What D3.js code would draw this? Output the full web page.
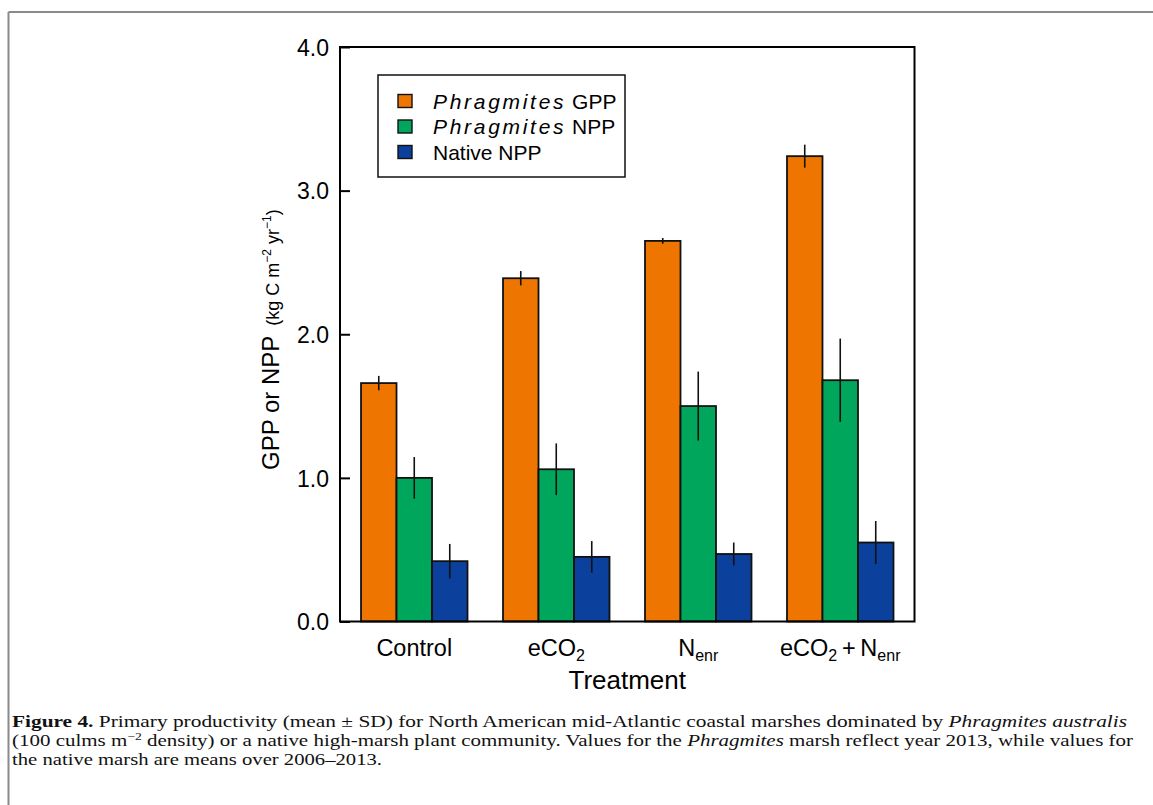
<!DOCTYPE html>
<html><head><meta charset="utf-8">
<script src="https://cdn.jsdelivr.net/npm/d3@7"></script>
<style>body{margin:0;background:#fff}svg{display:block}</style>
</head><body>
<svg id="chart" width="1153" height="805"></svg>
<script>
const treatments = ["Control", "eCO2", "Nenr", "eCO2+Nenr"];
const seriesNames = ["Phragmites GPP", "Phragmites NPP", "Native NPP"];
const gppMean = [1.66, 2.39, 2.65, 3.24];
const gppSD   = [0.05, 0.05, 0.02, 0.08];
const nppMean = [1.00, 1.06, 1.50, 1.68];
const nppSD   = [0.145, 0.18, 0.24, 0.29];
const natMean = [0.42, 0.45, 0.47, 0.55];
const natSD   = [0.12, 0.11, 0.08, 0.15];
const yTicks  = [0, 1, 2, 3, 4];
const colors  = ["#EE7600", "#00A65B", "#0B419C"];

const means = [gppMean, nppMean, natMean];
const sds = [gppSD, nppSD, natSD];

const svg = d3.select("#chart");
const L = 340, R = 914.5, T = 47, B = 621.5;
const font = "'Liberation Sans', Arial, Helvetica, sans-serif";
const serif = "'Liberation Serif', 'Times New Roman', serif";

// figure border (top + left)
svg.append("line").attr("x1", 8.5).attr("x2", 1153).attr("y1", 12).attr("y2", 12).attr("stroke", "#8a8a8a").attr("stroke-width", 2);
svg.append("line").attr("x1", 8.5).attr("x2", 8.5).attr("y1", 12).attr("y2", 805).attr("stroke", "#8a8a8a").attr("stroke-width", 2);

const x0 = d3.scaleBand().domain(treatments).range([L, R]).paddingInner(0.25).paddingOuter(0.148);
const x1 = d3.scaleBand().domain(seriesNames).range([0, x0.bandwidth()]);
const y = d3.scaleLinear().domain([0, 4]).range([B, T]);

const rows = [];
treatments.forEach((t, i) => seriesNames.forEach((s, j) => rows.push({t, s, j, m: means[j][i], sd: sds[j][i]})));

const g = svg.append("g");
g.selectAll("rect.bar").data(rows).join("rect").attr("class", "bar")
  .attr("x", d => x0(d.t) + x1(d.s))
  .attr("width", x1.bandwidth())
  .attr("y", d => y(d.m))
  .attr("height", d => y(0) - y(d.m))
  .attr("fill", d => colors[d.j])
  .attr("stroke", "#111").attr("stroke-width", 1.8);

g.selectAll("line.err").data(rows).join("line").attr("class", "err")
  .attr("x1", d => x0(d.t) + x1(d.s) + x1.bandwidth() / 2)
  .attr("x2", d => x0(d.t) + x1(d.s) + x1.bandwidth() / 2)
  .attr("y1", d => y(d.m - d.sd))
  .attr("y2", d => y(d.m + d.sd))
  .attr("stroke", "#111").attr("stroke-width", 1.6);

// frame
svg.append("rect").attr("x", L).attr("y", T).attr("width", R - L).attr("height", B - T)
  .attr("fill", "none").attr("stroke", "#000").attr("stroke-width", 2);

// y axis
const ya = svg.append("g").attr("transform", `translate(${L},0)`)
  .call(d3.axisLeft(y).tickValues(yTicks).tickFormat(d3.format(".1f")).tickSize(-10).tickPadding(11));
ya.select(".domain").remove();
ya.selectAll(".tick line").attr("stroke", "#000").attr("stroke-width", 2);
ya.selectAll(".tick text").attr("font-family", font).attr("font-size", 23).attr("fill", "#000").attr("dy", "0.36em");

// x labels
const xl = svg.append("g").attr("font-family", font).attr("fill", "#000").attr("font-size", 23.5);
function subLabel(sel, parts) {
  parts.forEach(p => {
    const ts = sel.append("tspan").text(p.t);
    if (p.sub) ts.attr("font-size", 16).attr("dy", 5);
    else if (p.back) ts.attr("dy", -5);
  });
}
const labelParts = {
  "Control": [{t: "Control"}],
  "eCO2": [{t: "eCO"}, {t: "2", sub: true}],
  "Nenr": [{t: "N"}, {t: "enr", sub: true}],
  "eCO2+Nenr": [{t: "eCO"}, {t: "2", sub: true}, {t: "\u2009+\u2009N", back: true}, {t: "enr", sub: true}]
};
treatments.forEach(t => {
  const tx = xl.append("text").attr("x", x0(t) + x0.bandwidth() / 2).attr("y", 656).attr("text-anchor", "middle");
  subLabel(tx, labelParts[t]);
});
svg.append("text").attr("x", (L + R) / 2).attr("y", 689).attr("text-anchor", "middle")
  .attr("font-family", font).attr("font-size", 26).attr("fill", "#000").text("Treatment");

// y label
const yl = svg.append("text").attr("transform", "translate(279,470) rotate(-90)")
  .attr("font-family", font).attr("fill", "#000");
yl.append("tspan").attr("font-size", 24).text("GPP or NPP");
yl.append("tspan").attr("font-size", 18).attr("dx", 10).text("(kg C m");
yl.append("tspan").attr("font-size", 12).attr("dy", -8).text("−2");
yl.append("tspan").attr("font-size", 18).attr("dy", 8).text(" yr");
yl.append("tspan").attr("font-size", 12).attr("dy", -8).text("−1");
yl.append("tspan").attr("font-size", 18).attr("dy", 8).text(")");

// legend
const lg = svg.append("g");
lg.append("rect").attr("x", 378).attr("y", 75).attr("width", 247).attr("height", 102)
  .attr("fill", "#fff").attr("stroke", "#111").attr("stroke-width", 1.5);
seriesNames.forEach((s, j) => {
  const cy = 101 + j * 25.5;
  lg.append("rect").attr("x", 398).attr("y", cy - 6.5).attr("width", 14).attr("height", 13)
    .attr("fill", colors[j]).attr("stroke", "#111").attr("stroke-width", 1.4);
  const tx = lg.append("text").attr("x", 433).attr("y", cy + 7.5).attr("font-family", font).attr("font-size", 21).attr("fill", "#000");
  if (s.startsWith("Phragmites")) {
    tx.append("tspan").attr("font-style", "italic").attr("letter-spacing", 2.7).text("Phragmites");
    tx.append("tspan").text(s.replace("Phragmites", ""));
  } else tx.text(s);
});

// caption
const cap = svg.append("g").attr("font-family", serif).attr("font-size", 17).attr("fill", "#111");
const c1 = cap.append("text").attr("x", 12).attr("y", 727).attr("textLength", 1115).attr("lengthAdjust", "spacingAndGlyphs");
c1.append("tspan").attr("font-weight", "bold").text("Figure 4.");
c1.append("tspan").text(" Primary productivity (mean ± SD) for North American mid-Atlantic coastal marshes dominated by ");
c1.append("tspan").attr("font-style", "italic").text("Phragmites australis");
const c2 = cap.append("text").attr("x", 12).attr("y", 746).attr("textLength", 1121).attr("lengthAdjust", "spacingAndGlyphs");
c2.append("tspan").text("(100 culms m");
c2.append("tspan").attr("font-size", 11).attr("dy", -6).text("−2");
c2.append("tspan").attr("dy", 6).text(" density) or a native high-marsh plant community. Values for the ");
c2.append("tspan").attr("font-style", "italic").text("Phragmites");
c2.append("tspan").text(" marsh reflect year 2013, while values for");
cap.append("text").attr("x", 12).attr("y", 765).attr("textLength", 370).attr("lengthAdjust", "spacingAndGlyphs")
  .text("the native marsh are means over 2006–2013.");
</script>
</body></html>
